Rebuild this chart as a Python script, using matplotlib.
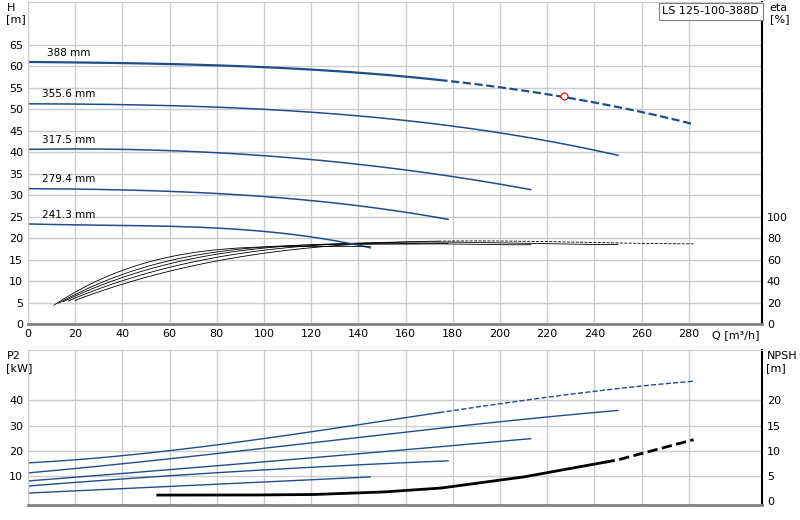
import matplotlib
matplotlib.use("Agg")
import matplotlib.pyplot as plt
import numpy as np

diams = ["388 mm", "355.6 mm", "317.5 mm", "279.4 mm", "241.3 mm"]
# H curves (Q, H)
h_q = [[0, 50, 100, 150, 175, 227, 282],
       [0, 50, 100, 150, 200, 250],
       [0, 50, 100, 150, 190, 213],
       [0, 50, 100, 150, 178],
       [0, 50, 100, 130, 145]]
h_v = [[61, 60.8, 59.8, 58, 56.8, 53, 46.5],
       [51.3, 51, 50, 48, 44.5, 39.3],
       [40.7, 40.5, 39.3, 36.5, 33.5, 31.3],
       [31.5, 31.2, 29.5, 27, 24.3],
       [23.3, 22.9, 21.5, 19.5, 17.7]]
# eta curves (Q, eta %)
e_q = [[20, 40, 80, 120, 160, 200, 240, 282],
       [17, 40, 80, 120, 160, 200, 250],
       [15, 40, 80, 120, 160, 213],
       [13, 40, 80, 120, 160, 178],
       [11, 40, 80, 120, 145]]
e_v = [[20, 40, 58.8, 70, 75.6, 77.6, 77.2, 74],
       [20, 42.8, 61.6, 72, 76, 76.8, 73.6],
       [20, 45.2, 64, 73.2, 76, 73.6],
       [18.8, 47.6, 66, 73.6, 75.6, 74.4],
       [17.2, 50.8, 68, 73.2, 72]]
# P2 curves (Q, kW)
p_q = [[0, 60, 120, 175, 240, 282],
       [0, 100, 175, 250],
       [0, 100, 213],
       [0, 100, 178],
       [0, 100, 145]]
p_v = [[15.2, 20, 27.6, 35.2, 43.6, 47.6],
       [11.2, 21, 29, 36],
       [8, 15.6, 24.8],
       [6, 12.4, 16],
       [3.2, 7.6, 9.6]]
npsh_q = [55, 90, 120, 150, 175, 210, 250, 282]
npsh_v = [1.2, 1.2, 1.3, 1.8, 2.6, 4.8, 8.2, 12.2]
solid_end = 175

blue = "#1f4e8c"
fig = plt.figure(figsize=(8, 5.2), dpi=100)
ax1 = fig.add_axes([0.035, 0.377, 0.9175, 0.619])
ax2 = fig.add_axes([0.035, 0.029, 0.9175, 0.298])

def split_plot(ax, q, v, end, **kw):
    q = np.array(q, float); v = np.array(v, float)
    qq = np.linspace(q[0], q[-1], 200)
    coef = np.polyfit(q, v, min(3, len(q) - 1))
    vv = np.polyval(coef, qq)
    m = qq <= end
    ax.plot(qq[m], vv[m], '-', **kw)
    if (~m).any():
        i = max(m.sum() - 1, 0)
        ax.plot(qq[i:], vv[i:], '--', **kw)

for i, d in enumerate(diams):
    lw = 1.6 if i == 0 else 1.1
    split_plot(ax1, h_q[i], h_v[i], solid_end if i == 0 else 999, color=blue, lw=lw)
    ax1.text(h_q[i][0] + 6 if i > 0 else 8, h_v[i][0] + 1.5, d, fontsize=7.5)
    split_plot(ax1, e_q[i], np.array(e_v[i]) / 4, solid_end if i == 0 else 999, color='black', lw=0.6)
    split_plot(ax2, p_q[i], p_v[i], solid_end if i == 0 else 999, color=blue, lw=1.0)
ax1.plot([227], [53], 'o', mfc='white', mec='red', ms=5, mew=0.8)

nq = np.linspace(npsh_q[0], npsh_q[-1], 200)
nv = np.interp(nq, npsh_q, npsh_v) * 2
m = nq <= 245
ax2.plot(nq[m], nv[m], 'k-', lw=2)
ax2.plot(nq[m.sum() - 1:], nv[m.sum() - 1:], 'k--', lw=2)

for ax in (ax1, ax2):
    ax.set_xlim(0, 311)
    ax.set_xticks(np.arange(0, 300, 20))
    ax.grid(True, color='#cccccc', lw=1)
    ax.set_axisbelow(True)
    ax.tick_params(labelsize=8, length=0)
    for s in ax.spines.values():
        s.set_color('#cccccc')
    ax.spines['right'].set_color('black')
    ax.spines['right'].set_linewidth(1.5)
    ax.spines['bottom'].set_color('gray')
    ax.spines['bottom'].set_linewidth(2)

ax1.set_ylim(0, 75)
ax1.set_yticks(np.arange(0, 70, 5))
ax1.text(300, -1.5, "Q [m³/h]", fontsize=8, va='top', ha='center', clip_on=False)
t1 = ax1.twinx()
t1.set_ylim(0, 300)
t1.set_yticks(np.arange(0, 120, 20))
t1.tick_params(labelsize=8, length=0)
for s in t1.spines.values():
    s.set_visible(False)

ax2.set_ylim(-1.5, 60)
ax2.set_yticks(np.arange(10, 50, 10))
ax2.set_xticklabels([])
t2 = ax2.twinx()
t2.set_ylim(-0.75, 30)
t2.set_yticks(np.arange(0, 25, 5))
t2.tick_params(labelsize=8, length=0)
for s in t2.spines.values():
    s.set_visible(False)

fig.text(0.008, 0.995, "H\n[m]", fontsize=8, va='top')
fig.text(0.962, 0.995, "eta\n[%]", fontsize=8, va='top')
fig.text(0.008, 0.325, "P2\n[kW]", fontsize=8, va='top')
fig.text(0.958, 0.325, "NPSH\n[m]", fontsize=8, va='top')
fig.text(0.949, 0.988, "LS 125-100-388D", fontsize=8, ha='right', va='top',
         bbox=dict(boxstyle='square,pad=0.3', fc='white', ec='gray', lw=0.8))
fig.savefig("out.png", dpi=100)
